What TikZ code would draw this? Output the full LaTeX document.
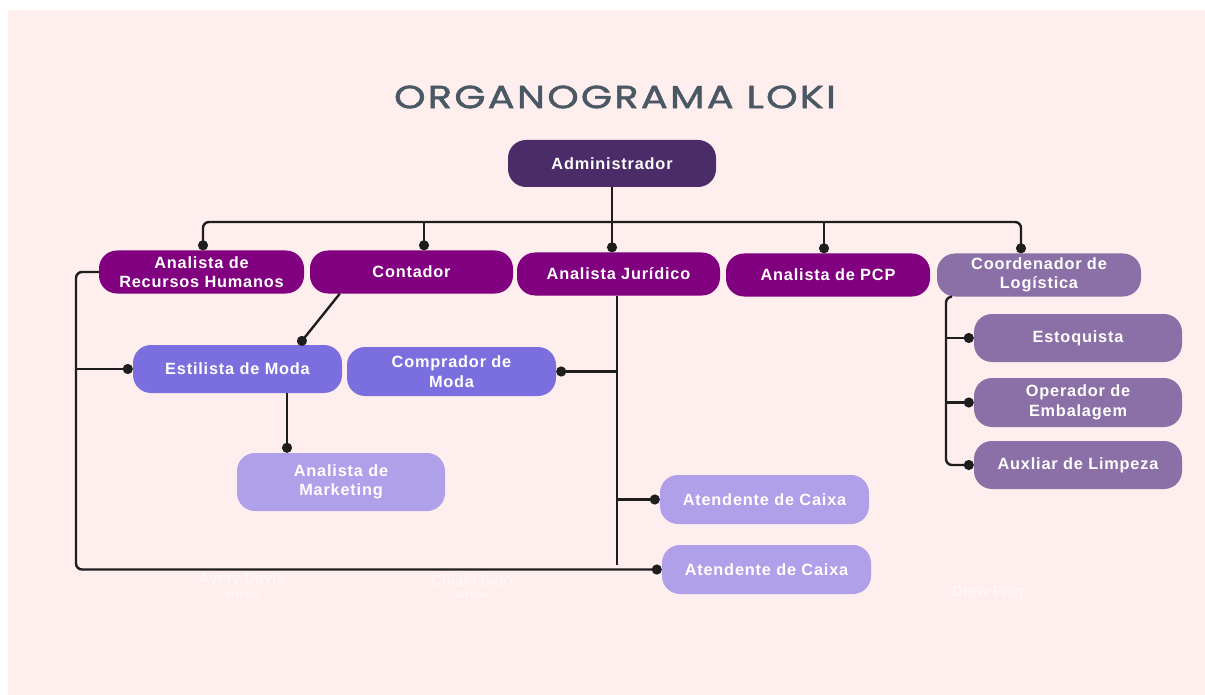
\documentclass[tikz,border=0pt]{standalone}
\usepackage{fontspec}
\setmainfont{Liberation Sans}
\newfontfamily\nodefont{Liberation Sans}[LetterSpace=5]
\newfontfamily\titlefont{Poppins}[LetterSpace=7,FakeStretch=1.25,FakeBold=1.6]
\usetikzlibrary{arrows.meta,calc}
\definecolor{bgpink}{HTML}{FFEEEE}
\definecolor{cadm}{HTML}{4B2C69}
\definecolor{cpur}{HTML}{800080}
\definecolor{clog}{HTML}{8B70A8}
\definecolor{cmid}{HTML}{7B6FE0}
\definecolor{clight}{HTML}{B0A0EA}
\definecolor{ctitle}{HTML}{4A5864}
\definecolor{cline}{HTML}{1E1E1E}
\definecolor{ghost}{HTML}{FFF7F7}
\begin{document}
\begin{tikzpicture}[x=1pt,y=-1pt,
  box/.style={rounded corners=18pt, text=white, align=center, inner sep=0pt,
    font=\nodefont\bfseries\fontsize{16.3}{19.5}\selectfont, minimum width=205pt, minimum height=43pt},
  conn/.style={draw=cline, line width=2.4pt},
  dotend/.style={-{Circle[length=10pt,width=10pt]}},
  ghosttext/.style={text=ghost, font=\bfseries\fontsize{15}{16}\selectfont, inner sep=0pt},
  ghostsub/.style={text=ghost, font=\bfseries\fontsize{9}{10}\selectfont, inner sep=0pt}]
\useasboundingbox (0,0) rectangle (1205,695);
\fill[white] (0,0) rectangle (1205,695);
\fill[bgpink] (8,10) rectangle (1205,695);

\node[text=ctitle, font=\titlefont\fontsize{32}{34}\selectfont] (title) at (615,97) {ORGANOGRAMA LOKI};

\node[box, fill=cadm, minimum width=208pt, minimum height=47pt] (adm) at (612,163.5) {Administrador};
\node[box, fill=cpur] (rh) at (201.5,272) {Analista de\\Recursos Humanos};
\node[box, fill=cpur, minimum width=203pt] (cont) at (411.5,272) {Contador};
\node[box, fill=cpur, minimum width=203pt] (jur) at (618.5,274) {Analista Jurídico};
\node[box, fill=cpur, minimum width=204pt] (pcp) at (828,275) {Analista de PCP};
\node[box, fill=clog, minimum width=204pt] (coord) at (1039,275) {Coordenador de\\Logística};
\node[box, fill=clog, minimum width=208pt, minimum height=48pt] (esto) at (1078,338) {Estoquista};
\node[box, fill=clog, minimum width=208pt, minimum height=49pt] (oper) at (1078,402.5) {Operador de\\Embalagem};
\node[box, fill=clog, minimum width=208pt, minimum height=48pt] (aux) at (1078,465) {Auxliar de Limpeza};
\node[box, fill=cmid, minimum width=209pt, minimum height=48pt] (est) at (237.5,369) {Estilista de Moda};
\node[box, fill=cmid, minimum width=209pt, minimum height=49pt] (comp) at (451.5,371.5) {Comprador de\\Moda};
\node[box, fill=clight, minimum width=208pt, minimum height=58pt] (mkt) at (341,482) {Analista de\\Marketing};
\node[box, fill=clight, minimum width=209pt, minimum height=49pt] (at1) at (764.5,499.5) {Atendente de Caixa};
\node[box, fill=clight, minimum width=209pt, minimum height=49pt] (at2) at (766.5,569.5) {Atendente de Caixa};

\node[ghosttext] (g1) at (242,580) {Avery Davis};
\node[ghostsub] (g1s) at (242,595) {INTERN};
\node[ghosttext] (g2) at (472,580) {Chiaki Sato};
\node[ghostsub] (g2s) at (472,595) {INTERN};
\node[ghosttext] (g3) at (988,593) {Drew Feig};

\coordinate (bar) at (612,222);
\coordinate (L) at (76,0);
\coordinate (J) at (617,565);
\coordinate (G) at (946,0);

% top bar
\draw[conn, rounded corners=6pt, {Circle[length=10pt,width=10pt]}-{Circle[length=10pt,width=10pt]}]
  ([xshift=1.5pt]rh.north) |- (bar) -| ([xshift=-18pt]coord.north);
\draw[conn, dotend] (adm.south) -- (adm.south |- jur.north);
\draw[conn, dotend] (bar -| 424,0) -- ([xshift=12.5pt]cont.north);
\draw[conn, dotend] (bar -| 824,0) -- ([xshift=-4pt]pcp.north);

% logistics
\draw[conn, rounded corners=6pt, dotend] ([xshift=14pt]coord.south west) -| (G |- aux.west) -- (aux.west);
\draw[conn, dotend] (G |- esto.west) -- (esto.west);
\draw[conn, dotend] (G |- oper.west) -- (oper.west);

% left spine
\draw[conn, rounded corners=6pt, dotend] (rh.west) -| (L |- at2.west) -- (at2.west);
\draw[conn, dotend] (L |- est.west) -- (est.west);

% juridico spine
\draw[conn] (jur.south -| J) -- (J);
\draw[conn, dotend] (J |- comp.east) -- (comp.east);
\draw[conn, dotend] (J |- at1.west) -- (at1.west);

% contador -> estilista, estilista -> marketing
\draw[conn, dotend] ([xshift=30pt]cont.south west) -- ([xshift=166pt]est.north west);
\draw[conn, dotend] ([xshift=49.5pt]est.south) -- ([xshift=-54pt]mkt.north);
\end{tikzpicture}
\end{document}
